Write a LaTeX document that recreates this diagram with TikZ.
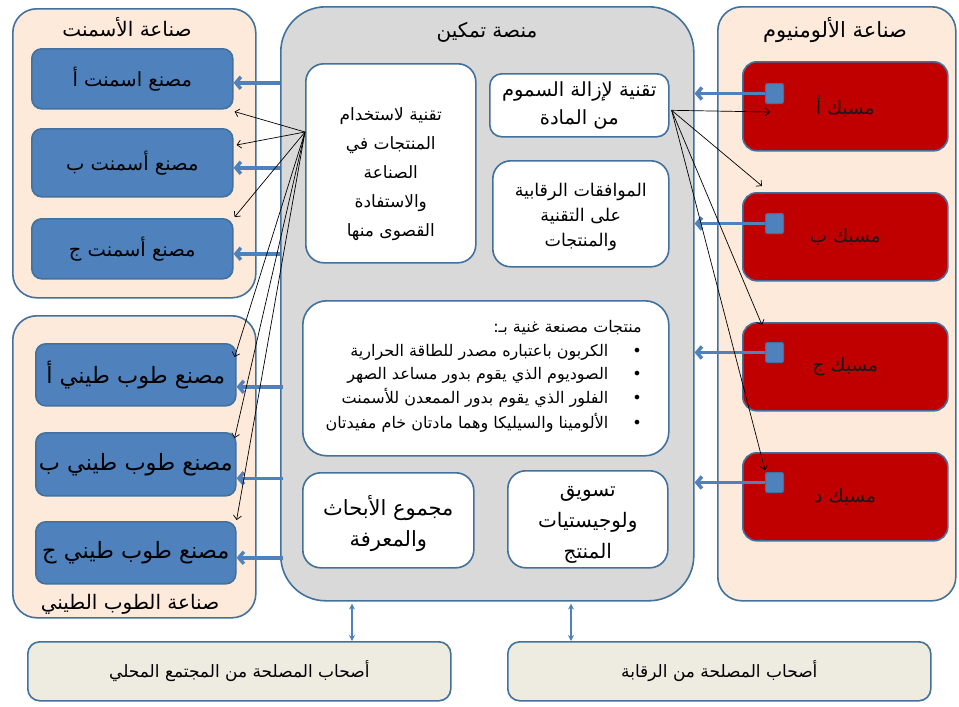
\documentclass[tikz,border=0pt]{standalone}
\usepackage{fontspec}
\TeXXeTstate=1
\newfontfamily\arabicfont[Script=Arabic]{DejaVu Sans}
\usetikzlibrary{arrows.meta,calc}
\newcommand{\ar}[1]{{\arabicfont\beginR #1\endR}}
\definecolor{frame}{HTML}{41719C}
\definecolor{peach}{HTML}{FDEADA}
\definecolor{platgrey}{HTML}{D9D9D9}
\definecolor{boxblue}{HTML}{4F81BD}
\definecolor{boxred}{HTML}{C00000}
\definecolor{stake}{HTML}{EEECE1}
\begin{document}
\begin{tikzpicture}[x=1pt,y=-1pt,
  base/.style={draw=frame, line width=1.6pt, anchor=north west, inner sep=0pt, align=center},
  group/.style={base, fill=peach, rounded corners=24pt},
  plat/.style={base, fill=platgrey, rounded corners=45pt},
  bluebox/.style={base, fill=boxblue, rounded corners=10pt, font=\fontsize{19.5}{22}\selectfont},
  brickbox/.style={bluebox, font=\fontsize{22.5}{26}\selectfont},
  redbox/.style={base, fill=boxred, rounded corners=14pt, text=black!90, font=\fontsize{18.5}{22}\selectfont},
  sq/.style={base, fill=boxblue, line width=1pt, rounded corners=2pt},
  whitebox/.style={base, fill=white, rounded corners=18pt},
  intext/.style={inner sep=0pt, align=center},
  stakebox/.style={base, fill=stake, rounded corners=12pt, font=\fontsize{17}{20}\selectfont},
  title/.style={font=\fontsize{20}{24}\selectfont, inner sep=0pt},
  bl/.style={font=\fontsize{16}{19}\selectfont, inner sep=0pt, anchor=east},
  thk/.style={draw=boxblue, line width=3.5pt, -{Straight Barb[length=5pt,width=12pt]}},
  fan/.style={draw=black, line width=0.7pt, -{Straight Barb[length=4pt,width=8pt]}},
  dbl/.style={draw=boxblue, line width=1.3pt, {Stealth[length=6pt,width=6pt]}-{Stealth[length=6pt,width=6pt]}}
]
\useasboundingbox (0,0) rectangle (959,707);
\fill[white] (0,0) rectangle (959,707);

% groups
\node[group, minimum width=243pt, minimum height=289pt] (cg) at (12,8) {};
\node[title] (cgt) at (127,27) {\ar{صناعة الأسمنت}};
\node[group, minimum width=243pt, minimum height=302pt] (bg) at (12,315) {};
\node[plat, minimum width=413pt, minimum height=594pt] (pl) at (280,6) {};
\node[title] (plt) at (487,32) {\ar{منصة تمكين}};
\node[group, minimum width=238pt, minimum height=594pt] (ag) at (717,6) {};
\node[title, font=\fontsize{21}{24}\selectfont] (agt) at (835,30) {\ar{صناعة الألومنيوم}};

% cement boxes
\node[bluebox, minimum width=201pt, minimum height=60pt] (cA) at (31,48) {\ar{مصنع اسمنت أ}};
\node[bluebox, minimum width=201pt, minimum height=68pt] (cB) at (31,128) {\ar{مصنع أسمنت ب}};
\node[bluebox, minimum width=201pt, minimum height=60pt] (cC) at (31,218) {\ar{مصنع أسمنت ج}};

% brick boxes
\node[brickbox, minimum width=200pt, minimum height=62pt] (bA) at (35,343) {\ar{مصنع طوب طيني أ}};
\node[brickbox, minimum width=200pt, minimum height=63pt] (bB) at (35,432) {\ar{مصنع طوب طيني ب}};
\node[brickbox, minimum width=200pt, minimum height=62pt] (bC) at (35,521) {\ar{مصنع طوب طيني ج}};
\node[title] (bgt) at (130,604) {\ar{صناعة الطوب الطيني}};

% platform inner boxes
\node[whitebox, minimum width=170pt, minimum height=199pt] (tU) at (305,63) {};
\node[intext, font=\fontsize{17}{29}\selectfont] (tUt) at ($(tU.center)+(0,11)$)
  {\ar{تقنية لاستخدام}\\\ar{المنتجات في}\\\ar{الصناعة}\\\ar{والاستفادة}\\\ar{القصوى منها}};
\node[whitebox, rounded corners=12pt, minimum width=179pt, minimum height=63pt,
      font=\fontsize{19.5}{28}\selectfont] (tD) at (489,73)
  {\ar{تقنية لإزالة السموم}\\\ar{من المادة}};
\node[whitebox, minimum width=176pt, minimum height=106pt] (tR) at (492,160) {};
\node[intext, font=\fontsize{17.5}{25}\selectfont] (tRt) at ($(tR.center)+(0,3)$)
  {\ar{الموافقات الرقابية}\\\ar{على التقنية}\\\ar{والمنتجات}};
\node[whitebox, rounded corners=24pt, minimum width=366pt, minimum height=155pt] (pr) at (302,300) {};
\node[bl] (pH) at (642,328) {\ar{منتجات مصنعة غنية بـ:}};
\node[bl] (p1) at (642,352) {\ar{•\hspace{24pt}الكربون باعتباره مصدر للطاقة الحرارية}};
\node[bl] (p2) at (642,375) {\ar{•\hspace{24pt}الصوديوم الذي يقوم بدور مساعد الصهر}};
\node[bl] (p3) at (642,398) {\ar{•\hspace{24pt}الفلور الذي يقوم بدور الممعدن للأسمنت}};
\node[bl] (p4) at (642,423) {\ar{•\hspace{24pt}الألومينا والسيليكا وهما مادتان خام مفيدتان}};
\node[whitebox, minimum width=171pt, minimum height=95pt] (rs) at (302,472) {};
\node[intext, font=\fontsize{21}{31}\selectfont] (rst) at ($(rs.center)+(0,3)$)
  {\ar{مجموع الأبحاث}\\\ar{والمعرفة}};
\node[whitebox, minimum width=160pt, minimum height=97pt] (mk) at (507,470) {};
\node[intext, font=\fontsize{20}{31}\selectfont] (mkt) at ($(mk.center)+(0,6)$)
  {\ar{تسويق}\\\ar{ولوجيستيات}\\\ar{المنتج}};

% aluminium boxes
\node[redbox, minimum width=205pt, minimum height=89pt] (aA) at (742,61) {\ar{مسبك أ}};
\node[redbox, minimum width=205pt, minimum height=88pt] (aB) at (742,192) {\ar{مسبك ب}};
\node[redbox, minimum width=205pt, minimum height=88pt] (aC) at (742,322) {\ar{مسبك ج}};
\node[redbox, minimum width=205pt, minimum height=88pt] (aD) at (742,452) {\ar{مسبك د}};
\node[sq, minimum width=18pt, minimum height=20pt] (sA) at (765,83) {};
\node[sq, minimum width=18pt, minimum height=20pt] (sB) at (765,213) {};
\node[sq, minimum width=18pt, minimum height=20pt] (sC) at (765,342) {};
\node[sq, minimum width=18pt, minimum height=20pt] (sD) at (765,472) {};

% stakeholders
\node[stakebox, minimum width=423pt, minimum height=59pt] (s1) at (27,641) {\ar{أصحاب المصلحة من المجتمع المحلي}};
\node[stakebox, minimum width=423pt, minimum height=59pt] (s2) at (507,641) {\ar{أصحاب المصلحة من الرقابة}};

% thick blue arrows, platform -> factories
\draw[thk] ([yshift=-4pt]cA.east -| pl.west) -- ([yshift=-4pt]cA.east);
\draw[thk] ([yshift=-5pt]cB.east -| pl.west) -- ([yshift=-5pt]cB.east);
\draw[thk] ([yshift=-5pt]cC.east -| pl.west) -- ([yshift=-5pt]cC.east);
\draw[thk] ([yshift=-12pt,xshift=3pt]bA.east -| pl.west) -- ([yshift=-12pt]bA.east);
\draw[thk] ([yshift=-14pt,xshift=3pt]bB.east -| pl.west) -- ([yshift=-14pt]bB.east);
\draw[thk] ([yshift=-5pt,xshift=3pt]bC.east -| pl.west) -- ([yshift=-5pt]bC.east);
% thick blue arrows, foundries -> platform
\draw[thk] (sA.west) -- (sA.west -| pl.east);
\draw[thk] (sB.west) -- (sB.west -| pl.east);
\draw[thk] (sC.west) -- (sC.west -| pl.east);
\draw[thk] (sD.west) -- (sD.west -| pl.east);

% thin fan arrows
\coordinate (lf) at ($(tU.north west)+(0,69)$);
\draw[fan] (lf) -- ($(cA.south east)+(1,2)$);
\draw[fan] (lf) -- ($(cB.north east)+(3,17)$);
\draw[fan] (lf) -- ($(cC.north east)+(1,-1)$);
\draw[fan] (lf) -- ($(bA.north east)+(-2,14)$);
\draw[fan] (lf) -- ($(bB.north east)+(-2,6)$);
\draw[fan] (lf) -- ($(bC.north east)+(0,-1)$);
\coordinate (rf) at ($(tD.east)+(2,5)$);
\draw[fan] (rf) -- ($(aA.north west)+(28,51)$);
\draw[fan] (rf) -- ($(aB.north west)+(20,-6)$);
\draw[fan] (rf) -- ($(aC.north west)+(20,3)$);
\draw[fan] (rf) -- ($(sD.north west)+(0,-2)$);

% bottom double arrows
\coordinate (k1) at ($(pl.south west)+(72,2)$);
\coordinate (k2) at ($(pl.south west)+(291,2)$);
\draw[dbl] (k1) -- (k1 |- s1.north);
\draw[dbl] (k2) -- (k2 |- s2.north);
\end{tikzpicture}
\end{document}
